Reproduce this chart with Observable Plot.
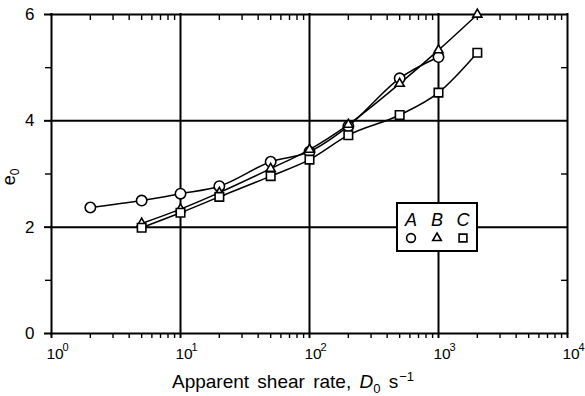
<!DOCTYPE html>
<html>
<head>
<meta charset="utf-8">
<script src="https://cdn.jsdelivr.net/npm/d3@7"></script>
<script src="https://cdn.jsdelivr.net/npm/@observablehq/plot@0.6"></script>
<style>
  html, body { margin: 0; padding: 0; background: #fff; }
  svg { display: block; }
</style>
</head>
<body>
<div id="chart"></div>
<script>
// Apparent shear rate D0 (s^-1) and e0 for the three samples
const ratesA = [2, 5, 10, 20, 50, 100, 200, 500, 1000];
const e0A    = [2.37, 2.50, 2.63, 2.77, 3.23, 3.42, 3.90, 4.80, 5.20];
const ratesB = [5, 10, 20, 50, 100, 200, 500, 1000, 2000];
const e0B    = [2.07, 2.34, 2.65, 3.10, 3.46, 3.93, 4.70, 5.33, 6.00];
const ratesC = [5, 10, 20, 50, 100, 200, 500, 1000, 2000];
const e0C    = [1.99, 2.27, 2.57, 2.96, 3.27, 3.73, 4.11, 4.53, 5.28];

const seriesNames   = ["A", "B", "C"];
const seriesSymbols = ["circle", "triangle", "square"];
const seriesRadius  = [5.2, 3.4, 4.8];

// axis tick values
const decades = [1, 10, 100, 1000, 10000];
const minorX  = [1, 10, 100, 1000].flatMap(d => [2, 3, 4, 5, 6, 7, 8, 9].map(m => m * d));
const majorY  = [0, 2, 4, 6];
const minorY  = [1, 3, 5];

const toRows = (rates, values, name) => rates.map((r, i) => ({rate: r, e0: values[i], series: name}));
const rows = [
  toRows(ratesA, e0A, "A"),
  toRows(ratesB, e0B, "B"),
  toRows(ratesC, e0C, "C")
];

const font = "'Liberation Sans', Arial, sans-serif";

// frame geometry
const W = 585, H = 396;
const mL = 51, mR = 18, mT = 14, mB = 63;
const frameW = W - mL - mR;
const frameH = H - mT - mB;
const tick = 5;

const lineMarks = rows.map(data =>
  Plot.line(data, {x: "rate", y: "e0", stroke: "#000", strokeWidth: 1.5, curve: "monotone-x"})
);
const dotMarks = rows.map((data, i) =>
  Plot.dot(data, {x: "rate", y: "e0", symbol: () => seriesSymbols[i], r: seriesRadius[i],
                  fill: "#fff", stroke: "#000", strokeWidth: 1.6})
);

const plot = Plot.plot({
  width: W,
  height: H,
  marginLeft: mL,
  marginRight: mR,
  marginTop: mT,
  marginBottom: mB,
  style: {fontFamily: font, background: "#fff", color: "#000"},
  x: {type: "log", domain: [1, 10000], axis: null},
  y: {domain: [0, 6], axis: null},
  marks: [
    // grid and frame
    Plot.ruleX(decades, {stroke: "#000", strokeWidth: 2, strokeLinecap: "square"}),
    Plot.ruleY(majorY, {stroke: "#000", strokeWidth: 2, strokeLinecap: "square"}),
    // bottom ticks (outward)
    Plot.tickX(decades, {x: d => d, stroke: "#000", strokeWidth: 2, insetTop: frameH, insetBottom: -tick}),
    Plot.tickX(minorX, {x: d => d, stroke: "#000", strokeWidth: 1.4, insetTop: frameH, insetBottom: -tick}),
    // top ticks (inward)
    Plot.tickX(minorX, {x: d => d, stroke: "#000", strokeWidth: 1.4, insetTop: 0, insetBottom: frameH - 6}),
    // left ticks (outward) and right ticks (inward)
    Plot.tickY(minorY, {y: d => d, stroke: "#000", strokeWidth: 1.4, insetLeft: -6, insetRight: frameW}),
    Plot.tickY(minorY, {y: d => d, stroke: "#000", strokeWidth: 1.4, insetLeft: frameW - 6, insetRight: 0}),
    // y axis with major ticks and labels
    Plot.axisY(majorY, {anchor: "left", tickSize: 7, tickPadding: 10, strokeWidth: 2, fontSize: 17,
                        tickFormat: d3.format("d"), label: null}),
    // x tick labels as powers of ten
    Plot.text(decades, {x: d => d, frameAnchor: "bottom", text: () => "10", textAnchor: "start",
                        dx: -5, dy: 21, lineAnchor: "middle", fontSize: 15.5, fill: "#000"}),
    Plot.text(decades, {x: d => d, frameAnchor: "bottom", text: d => String(Math.round(Math.log10(d))),
                        textAnchor: "start", dx: 11, dy: 14, lineAnchor: "middle", fontSize: 11, fill: "#000"}),
    ...lineMarks,
    ...dotMarks
  ]
});

document.getElementById("chart").append(plot);

const svg = d3.select(plot);

// axis titles with sub/superscripts
const xTitle = svg.append("text")
  .attr("x", 293).attr("y", 388)
  .attr("text-anchor", "middle")
  .attr("font-family", font)
  .attr("font-size", 19)
  .attr("word-spacing", 3)
  .attr("fill", "#000");
xTitle.append("tspan").text("Apparent shear rate, ");
xTitle.append("tspan").attr("font-style", "italic").text("D");
xTitle.append("tspan").attr("font-size", 13).attr("dy", 5).text("0");
xTitle.append("tspan").attr("dy", -5).text(" s");
xTitle.append("tspan").attr("font-size", 13).attr("dy", -7).attr("dx", 1).text("\u22121");

const yTitle = svg.append("text")
  .attr("transform", "translate(15,177) rotate(-90)")
  .attr("text-anchor", "middle")
  .attr("font-family", font)
  .attr("font-size", 18)
  .attr("fill", "#000");
yTitle.append("tspan").text("e");
yTitle.append("tspan").attr("font-size", 12).attr("dy", 4).text("0");

// legend box
const legend = svg.append("g").attr("transform", "translate(397,203)");
legend.append("rect")
  .attr("width", 80).attr("height", 48)
  .attr("fill", "#fff").attr("stroke", "#000").attr("stroke-width", 2);
const legendSymbolSize = [Math.PI * 4.4 * 4.4, Math.PI * 3.2 * 3.2, Math.PI * 4.4 * 4.4];
const symbolTypes = {circle: d3.symbolCircle, triangle: d3.symbolTriangle, square: d3.symbolSquare};
seriesNames.forEach((name, i) => {
  const cx = 14 + i * 26;
  legend.append("text")
    .attr("x", cx).attr("y", 23)
    .attr("text-anchor", "middle")
    .attr("font-family", font)
    .attr("font-style", "italic")
    .attr("font-size", 18)
    .attr("fill", "#000")
    .text(name);
  legend.append("path")
    .attr("transform", `translate(${cx},35)`)
    .attr("d", d3.symbol(symbolTypes[seriesSymbols[i]], legendSymbolSize[i])())
    .attr("fill", "#fff").attr("stroke", "#000").attr("stroke-width", 1.6);
});
</script>
</body>
</html>
